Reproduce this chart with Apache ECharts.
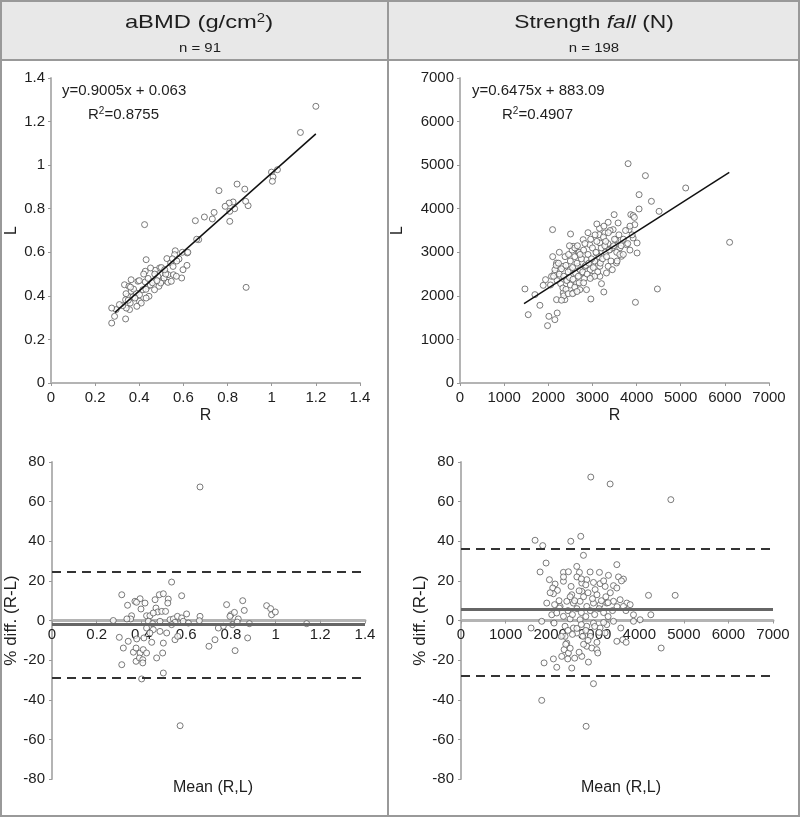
<!DOCTYPE html>
<html><head><meta charset="utf-8">
<script src="https://cdn.jsdelivr.net/npm/echarts@6/dist/echarts.min.js"></script>
<style>html,body{margin:0;padding:0;background:#fff}#c{width:800px;height:817px}</style>
</head><body><div id="c"></div>
<script>
// ---------- DATA ----------
const nLeft = 'n = 91';
const nRight = 'n = 198';

const eqLeft = {slope: 0.9005, intercept: 0.063, r2: 0.8755, xFrom: 0.29, xTo: 1.2};
const eqRight = {slope: 0.6475, intercept: 883.09, r2: 0.4907, xFrom: 1450, xTo: 6100};

// Bland-Altman lines: [mean, upper limit, lower limit]
const baLeft = [-2.1, 24.5, -28.7];
const baRight = [5.8, 36.2, -28.0];

const bmdTicks = [0, 0.2, 0.4, 0.6, 0.8, 1, 1.2, 1.4];
const strTicks = [0, 1000, 2000, 3000, 4000, 5000, 6000, 7000];
const diffTicks = [-80, -60, -40, -20, 0, 20, 40, 60, 80];

// aBMD: R vs L
const bmdRL = [
[1.2,1.27],[1.13,1.15],[0.999,0.968],[1.026,0.979],[1.006,0.946],[1.003,0.926],[0.843,0.913],[0.878,0.89],
[0.761,0.883],[0.893,0.814],[0.882,0.834],[0.825,0.831],[0.807,0.826],[0.789,0.811],[0.832,0.80],[0.81,0.788],
[0.81,0.742],[0.739,0.783],[0.695,0.762],[0.731,0.753],[0.654,0.745],[0.669,0.658],[0.424,0.727],[0.884,0.439],
[0.563,0.607],[0.595,0.60],[0.617,0.597],[0.56,0.589],[0.58,0.569],[0.616,0.54],[0.525,0.571],[0.542,0.551],
[0.553,0.535],[0.592,0.482],[0.519,0.505],[0.492,0.528],[0.53,0.497],[0.555,0.497],[0.472,0.517],[0.451,0.528],
[0.431,0.566],[0.427,0.513],[0.484,0.49],[0.504,0.467],[0.489,0.444],[0.53,0.462],[0.459,0.467],[0.439,0.444],
[0.444,0.398],[0.427,0.464],[0.416,0.428],[0.394,0.467],[0.386,0.413],[0.363,0.421],[0.348,0.398],[0.333,0.451],
[0.353,0.444],[0.374,0.431],[0.338,0.382],[0.359,0.367],[0.401,0.375],[0.409,0.367],[0.389,0.352],[0.356,0.337],
[0.341,0.344],[0.338,0.294],[0.325,0.355],[0.295,0.337],[0.275,0.344],[0.288,0.306],[0.275,0.275],[0.31,0.36],
[0.371,0.395],[0.469,0.428],[0.497,0.459],[0.512,0.482],[0.545,0.467],[0.568,0.49],[0.598,0.52],[0.363,0.474],
[0.401,0.405],[0.431,0.39],[0.36,0.44],[0.40,0.47],[0.45,0.45],[0.47,0.50],[0.50,0.53],[0.52,0.50],
[0.46,0.46],[0.38,0.39],[0.34,0.41],[0.42,0.50],[0.55,0.57],[0.57,0.56],[0.48,0.47],[0.43,0.43],
[0.515,0.52],[0.44,0.48],[0.35,0.38],[0.62,0.60],[0.66,0.66]
];

// Strength: R vs L
const strRL = [
[3808,5034],[4200,4759],[5113,4476],[4057,4323],[4336,4170],[4510,3940],[4057,3994],[6108,3229],
[4472,2158],[3974,1852],[2097,3520],[2504,3420],[1471,2158],[1546,1568],[1810,1783],[2013,1530],
[1983,1316],[2149,1454],[2202,1607],[1697,2028],[1938,2372],[1885,2242],[2964,1928],[3258,2089],
[3205,2280],[2790,3290],[3152,3405],[3356,3688],[3492,3864],[3582,3673],[3869,3864],[3922,3841],
[3959,3634],[4012,3214],[4012,2984],[3831,3520],[3922,3329],[3771,3175],[3469,3520],[3281,3444],
[3620,3099],[3658,2908],[3545,2755],[3394,3060],[3092,2984],[2941,3175],[2564,3137],[2677,2984],
[2866,2831],[3168,2678],[3318,2525],[2986,2448],[2760,2525],[2496,2601],[2338,2678],[2187,2754],
[2262,2448],[2413,2372],[2640,2295],[2866,2142],[2338,2066],[2187,1913],[2375,1913],[2564,2066],
[2715,2142],[2074,2448],[2149,2525],[3168,2448],[3356,2678],[3530,3290],[3168,3214],[3017,2755],
[2828,2678],[2677,2678],
[2250,2500],[2300,2620],[2350,2450],[2400,2700],[2450,2550],[2500,2800],[2550,2650],[2600,2900],
[2650,2750],[2700,3000],[2750,2850],[2800,3050],[2850,2700],[2900,2950],[2950,2600],[3000,3100],
[3050,2800],[3100,3250],[3150,2900],[3200,3100],[3250,3350],[3300,3000],[3350,3200],[3400,3500],
[3450,3100],[3500,3300],[3550,3000],[3600,3400],[2200,2350],[2280,2280],[2330,2180],[2420,2350],
[2480,2420],[2560,2380],[2620,2520],[2680,2450],[2720,2600],[2780,2550],[2820,2400],[2880,2500],
[2920,2750],[2980,2850],[3020,2650],[3080,3000],[3120,2550],[3180,2750],[3230,2850],[3280,3150],
[3320,2900],[3380,3050],[3420,2800],[3480,3150],[2150,2600],[2120,2450],[2180,2700],[2230,2750],
[2380,2900],[2460,2950],[2540,3050],[2600,3100],[2660,3150],[2720,2950],[2830,3200],[2960,3300],
[3060,3400],[3160,3550],[3260,3600],[3360,3450],[3700,3300],[3750,3500],[3650,3150],[3850,3600],
[3900,3400],[3950,3800],[3800,3200],[3560,2800],[3620,2950],[2400,2150],[2500,2250],[2600,2200],
[2700,2300],[2350,2000],[2450,2050],[2550,2050],[2300,1900],[2650,2100],
[2050,2250],[2100,2900],[2250,3000],[2480,3150],[2900,3450],[3100,3650],[3300,3250],[3450,2600],
[3700,2950],[3850,3050],[2800,2300],[3050,2450],[2950,2400]
];

// aBMD: mean vs % diff
const bmdBA = [
[0.662,67.4],[0.573,-53.1],[0.535,19.4],[0.58,12.5],[0.312,13],[0.338,7.7],[0.371,9.7],[0.394,11],
[0.416,8.8],[0.378,9.2],[0.398,5.8],[0.461,10.5],[0.48,13],[0.498,13.5],[0.52,10.8],[0.518,8.8],
[0.465,6.3],[0.473,4.3],[0.491,4.6],[0.508,4.6],[0.274,0],[0.356,2.4],[0.352,0.8],[0.335,0.8],
[0.423,2.4],[0.438,2.4],[0.453,3.8],[0.431,-0.4],[0.45,-1.6],[0.483,-0.4],[0.528,0.4],[0.543,0.8],
[0.561,2.1],[0.58,1.3],[0.602,3.3],[0.662,2.1],[0.659,-0.1],[0.587,-0.4],[0.55,-0.9],[0.781,8],
[0.80,2.9],[0.816,4.1],[0.796,2.1],[0.833,0.8],[0.828,-0.8],[0.853,10],[0.86,5.1],[0.883,-1.6],
[0.875,-8.8],[0.819,-15.2],[0.807,-2.1],[0.766,-2.9],[0.744,-3.8],[0.729,-9.7],[0.702,-13],[0.96,7.5],
[0.978,6],[0.982,2.9],[0.999,4.3],[1.139,-1.6],[0.301,-8.5],[0.319,-13.9],[0.341,-10.5],[0.312,-22.3],
[0.364,-16],[0.376,-13.9],[0.394,-16.4],[0.376,-20.6],[0.391,-18.9],[0.406,-19.8],[0.408,-14.7],[0.423,-16.4],
[0.406,-21.4],[0.401,-29.5],[0.379,-9.3],[0.411,-8.8],[0.446,-11],[0.468,-18.9],[0.495,-16.4],[0.498,-11.4],
[0.498,-26.5],[0.513,-6.3],[0.483,-5.5],[0.453,-4.6],[0.55,-9.7],[0.562,-8],[0.535,-2.1],[0.423,-3.8],
[0.61,-1.3],[0.438,-6.3]
];

// Strength: mean vs % diff
const strBA = [
[2912,72.4],[3346,68.9],[4708,61],[1662,40.5],[1834,37.8],[2463,40],[2687,42.5],[2747,32.9],
[1909,29],[1774,24.5],[3496,28.2],[2597,27.3],[2298,24.3],[2410,24.6],[2657,24.3],[2897,24.5],
[3106,24.3],[3308,22.8],[3533,22],[3645,20.9],[1984,20.6],[2111,18.4],[2058,16.4],[2163,15.2],
[2073,13.5],[2298,19.8],[2470,17.2],[2710,18.9],[2822,20.6],[2972,19.2],[3121,18.6],[3234,17.2],
[3421,17.6],[3496,16.4],[4207,12.7],[4805,12.7],[3009,15.6],[2710,14.7],[2485,13],[2373,9.7],
[2223,7.1],[1924,8.8],[2036,2.9],[2208,6.3],[2522,8.8],[2672,9.7],[2822,7.1],[2972,8.8],
[3121,8],[3271,8.8],[3421,9.7],[3570,10.5],[3720,8.8],[3795,8],[3645,7.1],[3870,2.9],
[4259,2.9],[4019,0.4],[3870,-0.4],[3421,-0.4],[2972,-1.3],[2672,0.4],[2448,0.8],[2298,2.1],
[2148,3.8],[1811,-0.4],[1572,-3.8],[2088,-1.3],[2335,-2.9],[2522,-3.8],[2822,-2.9],[3121,-3.8],
[3271,-2.1],[3496,-10.5],[3630,-9.7],[3705,-11],[3585,-3.8],[2335,-8],[2373,-11.4],[2313,-14.7],
[2410,-16.4],[2260,-18.1],[2073,-19.4],[2395,-19.4],[2148,-23.6],[2485,-24],[1864,-21.4],[2710,-18.1],
[2822,-13],[2934,-13.9],[3046,-14.7],[3069,-16.4],[2859,-21],[2972,-31.9],[1811,-40.3],[2807,-53.4],
[4491,-13.9],[2732,-8],[2897,-6.3],[2597,-6.3],[3234,-6.3],
[2400,5],[2500,3],[2600,6],[2700,4],[2800,2],[2900,5],[3000,3],[3100,6],[3200,4],[3300,2],
[2450,12],[2550,10],[2650,15],[2750,12],[2850,14],[2950,11],[3050,13],[3150,10],[3250,12],[3350,14],
[2400,-5],[2500,-7],[2600,-4],[2700,-2],[2800,-5],[2900,-8],[3000,-3],[3100,-6],[3200,-1],
[2350,-12],[2450,-14],[2650,-16],[2750,-12],[2850,-10],[3050,-11],[2300,22],[2600,22],[2700,21],
[2800,18],[3200,20],[3300,9],[3400,5],[3500,7],[3700,5],[3600,20],[2200,10],[2100,8],[2000,14],
[2250,-8],[2550,-19]
];

// ---------- CHART ----------
const FONT = 'Arial, "Liberation Sans", sans-serif';
const AXC = '#b4b4b4';
const TXT = '#1e1e1e';

function axis(ticks, gridIndex, extra) {
  const step = ticks[1] - ticks[0];
  return Object.assign({
    type: 'value', gridIndex,
    min: ticks[0], max: ticks[ticks.length - 1], interval: step,
    splitLine: {show: false},
    axisLine: {show: true, onZero: false, lineStyle: {color: AXC, width: 2}},
    axisTick: {show: true, length: 3, lineStyle: {color: '#999', width: 1}},
    axisLabel: {margin: 7, color: TXT, fontSize: 15, fontFamily: FONT, formatter: v => String(v)},
    nameTextStyle: {color: TXT, fontSize: 16, fontFamily: FONT}
  }, extra || {});
}

const marker = {
  type: 'scatter', symbol: 'circle', symbolSize: 6,
  itemStyle: {color: '#fff', borderColor: '#5a5a5a', borderWidth: 1},
  silent: true, animation: false
};

function regLine(eq) {
  return [[eq.xFrom, eq.slope * eq.xFrom + eq.intercept], [eq.xTo, eq.slope * eq.xTo + eq.intercept]];
}

function baMark(ba) {
  return {
    silent: true, symbol: 'none', label: {show: false}, animation: false,
    data: [
      {yAxis: ba[0], lineStyle: {color: '#666', width: 3, type: 'solid'}},
      {yAxis: ba[1], lineStyle: {color: '#333', width: 2, type: [9, 6]}},
      {yAxis: ba[2], lineStyle: {color: '#333', width: 2, type: [9, 6]}}
    ]
  };
}

function fmtEq(eq) { return 'y=' + eq.slope + 'x + ' + eq.intercept; }

const grids = [
  {left: 51, top: 78, width: 309, height: 305},
  {left: 460, top: 78, width: 309, height: 305},
  {left: 52, top: 462, width: 313, height: 317},
  {left: 461, top: 462, width: 312, height: 317}
].map(g => Object.assign({outerBoundsMode: 'none', containLabel: false}, g));

// bottom x axes are drawn through y = 0 (middle of the symmetric -80..80 range)
const midOffset = -317 / 2;

const option = {
  animation: false,
  backgroundColor: '#fff',
  grid: grids,
  xAxis: [
    axis(bmdTicks, 0, {name: 'R', nameLocation: 'middle', nameGap: 25}),
    axis(strTicks, 1, {name: 'R', nameLocation: 'middle', nameGap: 25}),
    axis(bmdTicks, 2, {offset: midOffset, axisLine: {show: true, onZero: false, lineStyle: {color: AXC, width: 3}}}),
    axis(strTicks, 3, {offset: midOffset, axisLine: {show: true, onZero: false, lineStyle: {color: AXC, width: 3}}})
  ],
  yAxis: [
    axis(bmdTicks, 0, {name: 'L', nameLocation: 'middle', nameGap: 31, axisLabel: {margin: 6, color: TXT, fontSize: 15, fontFamily: FONT, formatter: v => String(v)}}),
    axis(strTicks, 1, {name: 'L', nameLocation: 'middle', nameGap: 54, axisLabel: {margin: 6, color: TXT, fontSize: 15, fontFamily: FONT, formatter: v => String(v)}}),
    axis(diffTicks, 2, {name: '% diff. (R-L)', nameLocation: 'middle', nameGap: 29, nameTextStyle: {color: TXT, fontSize: 17, fontFamily: FONT}}),
    axis(diffTicks, 3, {name: '% diff. (R-L)', nameLocation: 'middle', nameGap: 31, nameTextStyle: {color: TXT, fontSize: 17, fontFamily: FONT}})
  ],
  series: [
    Object.assign({}, marker, {xAxisIndex: 0, yAxisIndex: 0, data: bmdRL, z: 3}),
    {type: 'line', xAxisIndex: 0, yAxisIndex: 0, data: regLine(eqLeft), symbol: 'none',
     lineStyle: {color: '#111', width: 1.5}, z: 4, silent: true},
    Object.assign({}, marker, {xAxisIndex: 1, yAxisIndex: 1, data: strRL, z: 3}),
    {type: 'line', xAxisIndex: 1, yAxisIndex: 1, data: regLine(eqRight), symbol: 'none',
     lineStyle: {color: '#111', width: 1.5}, z: 4, silent: true},
    Object.assign({}, marker, {xAxisIndex: 2, yAxisIndex: 2, data: bmdBA, z: 3, markLine: baMark(baLeft)}),
    Object.assign({}, marker, {xAxisIndex: 3, yAxisIndex: 3, data: strBA, z: 3, markLine: baMark(baRight)})
  ],
  graphic: [
    {type: 'rect', shape: {x: 0, y: 0, width: 800, height: 60}, style: {fill: '#e8e8e8'}, z: -10, silent: true},
    {type: 'rect', shape: {x: 1, y: 1, width: 798, height: 815}, style: {fill: null, stroke: '#999', lineWidth: 2}, z: 10, silent: true},
    {type: 'line', shape: {x1: 388, y1: 0, x2: 388, y2: 817}, style: {stroke: '#999', lineWidth: 2}, z: 10, silent: true},
    {type: 'line', shape: {x1: 0, y1: 60, x2: 800, y2: 60}, style: {stroke: '#999', lineWidth: 2}, z: 10, silent: true},
    {type: 'text', x: 199, y: 23, scaleX: 1.25, z: 11, silent: true,
     style: {text: '{a|aBMD (g/cm}{s|2}{a|)}', align: 'center', verticalAlign: 'middle',
       rich: {a: {fontSize: 19, fontFamily: FONT, fill: TXT}, s: {fontSize: 12, fontFamily: FONT, fill: TXT, padding: [0, 0, 9, 0]}}}},
    {type: 'text', x: 200, y: 48, scaleX: 1.15, z: 11, silent: true,
     style: {text: nLeft, align: 'center', verticalAlign: 'middle', fontSize: 13, fontFamily: FONT, fill: TXT}},
    {type: 'text', x: 594, y: 23, scaleX: 1.2, z: 11, silent: true,
     style: {text: '{a|Strength }{i|fall}{a| (N)}', align: 'center', verticalAlign: 'middle',
       rich: {a: {fontSize: 19, fontFamily: FONT, fill: TXT}, i: {fontSize: 19, fontFamily: FONT, fontStyle: 'italic', fill: TXT}}}},
    {type: 'text', x: 594, y: 48, scaleX: 1.15, z: 11, silent: true,
     style: {text: nRight, align: 'center', verticalAlign: 'middle', fontSize: 13, fontFamily: FONT, fill: TXT}},
    {type: 'text', x: 62, y: 83, z: 11, silent: true,
     style: {text: fmtEq(eqLeft), fontSize: 15, fontFamily: FONT, fill: TXT}},
    {type: 'text', x: 88, y: 106, z: 11, silent: true,
     style: {text: '{a|R}{s|2}{a|=' + eqLeft.r2 + '}',
       rich: {a: {fontSize: 15, fontFamily: FONT, fill: TXT}, s: {fontSize: 10, fontFamily: FONT, fill: TXT, padding: [0, 0, 7, 0]}}}},
    {type: 'text', x: 472, y: 83, z: 11, silent: true,
     style: {text: fmtEq(eqRight), fontSize: 15, fontFamily: FONT, fill: TXT}},
    {type: 'text', x: 502, y: 106, z: 11, silent: true,
     style: {text: '{a|R}{s|2}{a|=' + eqRight.r2 + '}',
       rich: {a: {fontSize: 15, fontFamily: FONT, fill: TXT}, s: {fontSize: 10, fontFamily: FONT, fill: TXT, padding: [0, 0, 7, 0]}}}},
    {type: 'text', x: 213, y: 788, z: 11, silent: true,
     style: {text: 'Mean (R,L)', align: 'center', verticalAlign: 'middle', fontSize: 16, fontFamily: FONT, fill: TXT}},
    {type: 'text', x: 621, y: 788, z: 11, silent: true,
     style: {text: 'Mean (R,L)', align: 'center', verticalAlign: 'middle', fontSize: 16, fontFamily: FONT, fill: TXT}}
  ]
};

const chart = echarts.init(document.getElementById('c'), null, {renderer: 'canvas'});
chart.setOption(option);
</script>
</body></html>
